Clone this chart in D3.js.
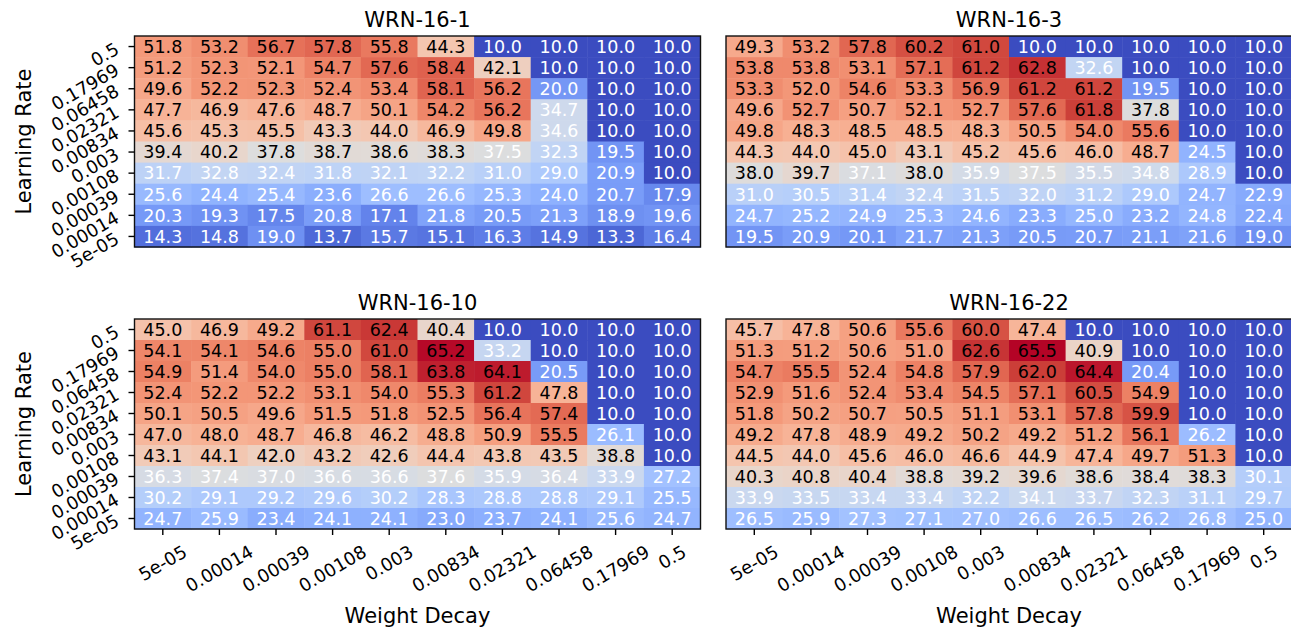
<!DOCTYPE html>
<html>
<head>
<meta charset="utf-8">
<script src="https://cdn.jsdelivr.net/npm/d3@7"></script>
<style>
  body { margin: 0; background: #fff; }
  svg { display: block; font-family: "DejaVu Sans", sans-serif; }
</style>
</head>
<body>
<svg id="viz"></svg>
<script>
/* Data */

const lrLabels = ["0.5", "0.17969", "0.06458", "0.02321", "0.00834", "0.003", "0.00108", "0.00039", "0.00014", "5e-05"];
const wdLabels = ["5e-05", "0.00014", "0.00039", "0.00108", "0.003", "0.00834", "0.02321", "0.06458", "0.17969", "0.5"];
const titles = ["WRN-16-1", "WRN-16-3", "WRN-16-10", "WRN-16-22"];

const wrn16_1 = [
  [51.8, 53.2, 56.7, 57.8, 55.8, 44.3, 10.0, 10.0, 10.0, 10.0],
  [51.2, 52.3, 52.1, 54.7, 57.6, 58.4, 42.1, 10.0, 10.0, 10.0],
  [49.6, 52.2, 52.3, 52.4, 53.4, 58.1, 56.2, 20.0, 10.0, 10.0],
  [47.7, 46.9, 47.6, 48.7, 50.1, 54.2, 56.2, 34.7, 10.0, 10.0],
  [45.6, 45.3, 45.5, 43.3, 44.0, 46.9, 49.8, 34.6, 10.0, 10.0],
  [39.4, 40.2, 37.8, 38.7, 38.6, 38.3, 37.5, 32.3, 19.5, 10.0],
  [31.7, 32.8, 32.4, 31.8, 32.1, 32.2, 31.0, 29.0, 20.9, 10.0],
  [25.6, 24.4, 25.4, 23.6, 26.6, 26.6, 25.3, 24.0, 20.7, 17.9],
  [20.3, 19.3, 17.5, 20.8, 17.1, 21.8, 20.5, 21.3, 18.9, 19.6],
  [14.3, 14.8, 19.0, 13.7, 15.7, 15.1, 16.3, 14.9, 13.3, 16.4]
];

const wrn16_3 = [
  [49.3, 53.2, 57.8, 60.2, 61.0, 10.0, 10.0, 10.0, 10.0, 10.0],
  [53.8, 53.8, 53.1, 57.1, 61.2, 62.8, 32.6, 10.0, 10.0, 10.0],
  [53.3, 52.0, 54.6, 53.3, 56.9, 61.2, 61.2, 19.5, 10.0, 10.0],
  [49.6, 52.7, 50.7, 52.1, 52.7, 57.6, 61.8, 37.8, 10.0, 10.0],
  [49.8, 48.3, 48.5, 48.5, 48.3, 50.5, 54.0, 55.6, 10.0, 10.0],
  [44.3, 44.0, 45.0, 43.1, 45.2, 45.6, 46.0, 48.7, 24.5, 10.0],
  [38.0, 39.7, 37.1, 38.0, 35.9, 37.5, 35.5, 34.8, 28.9, 10.0],
  [31.0, 30.5, 31.4, 32.4, 31.5, 32.0, 31.2, 29.0, 24.7, 22.9],
  [24.7, 25.2, 24.9, 25.3, 24.6, 23.3, 25.0, 23.2, 24.8, 22.4],
  [19.5, 20.9, 20.1, 21.7, 21.3, 20.5, 20.7, 21.1, 21.6, 19.0]
];

const wrn16_10 = [
  [45.0, 46.9, 49.2, 61.1, 62.4, 40.4, 10.0, 10.0, 10.0, 10.0],
  [54.1, 54.1, 54.6, 55.0, 61.0, 65.2, 33.2, 10.0, 10.0, 10.0],
  [54.9, 51.4, 54.0, 55.0, 58.1, 63.8, 64.1, 20.5, 10.0, 10.0],
  [52.4, 52.2, 52.2, 53.1, 54.0, 55.3, 61.2, 47.8, 10.0, 10.0],
  [50.1, 50.5, 49.6, 51.5, 51.8, 52.5, 56.4, 57.4, 10.0, 10.0],
  [47.0, 48.0, 48.7, 46.8, 46.2, 48.8, 50.9, 55.5, 26.1, 10.0],
  [43.1, 44.1, 42.0, 43.2, 42.6, 44.4, 43.8, 43.5, 38.8, 10.0],
  [36.3, 37.4, 37.0, 36.6, 36.6, 37.6, 35.9, 36.4, 33.9, 27.2],
  [30.2, 29.1, 29.2, 29.6, 30.2, 28.3, 28.8, 28.8, 29.1, 25.5],
  [24.7, 25.9, 23.4, 24.1, 24.1, 23.0, 23.7, 24.1, 25.6, 24.7]
];

const wrn16_22 = [
  [45.7, 47.8, 50.6, 55.6, 60.0, 47.4, 10.0, 10.0, 10.0, 10.0],
  [51.3, 51.2, 50.6, 51.0, 62.6, 65.5, 40.9, 10.0, 10.0, 10.0],
  [54.7, 55.5, 52.4, 54.8, 57.9, 62.0, 64.4, 20.4, 10.0, 10.0],
  [52.9, 51.6, 52.4, 53.4, 54.5, 57.1, 60.5, 54.9, 10.0, 10.0],
  [51.8, 50.2, 50.7, 50.5, 51.1, 53.1, 57.8, 59.9, 10.0, 10.0],
  [49.2, 47.8, 48.9, 49.2, 50.2, 49.2, 51.2, 56.1, 26.2, 10.0],
  [44.5, 44.0, 45.6, 46.0, 46.6, 44.9, 47.4, 49.7, 51.3, 10.0],
  [40.3, 40.8, 40.4, 38.8, 39.2, 39.6, 38.6, 38.4, 38.3, 30.1],
  [33.9, 33.5, 33.4, 33.4, 32.2, 34.1, 33.7, 32.3, 31.1, 29.7],
  [26.5, 25.9, 27.3, 27.1, 27.0, 26.6, 26.5, 26.2, 26.8, 25.0]
];

const grids = [wrn16_1, wrn16_3, wrn16_10, wrn16_22];

/* Environment */

const width = 1291;
const height = 630;

const svg = d3.select("#viz")
    .attr("width", width)
    .attr("height", height);

/* Colour: matplotlib coolwarm */

const coolwarm = d3.piecewise(d3.interpolateRgb, [
  "#3b4cc0", "#4d68d7", "#6282ea", "#779af7", "#8db0fe", "#a3c2ff", "#b8d0f9", "#ccd9ee",
  "#dddddd", "#ecd3c5", "#f5c4ad", "#f7b194", "#f49a7b", "#ec7f63", "#de604d", "#cb3e38", "#b40426"
]);

const allValues = grids.flat(2);
const vmin = d3.min(allValues);
const vmax = d3.max(allValues);
const color = d3.scaleSequential(coolwarm).domain([vmin, vmax]);
const threshold = (vmin + vmax) / 2;

/* Layout */

const cols = [134.5, 726];
const rows = [[36, 247], [319, 529]];
const panelW = 566;

const fs = 17.5;      // cell annotations
const tfs = 18;       // tick labels
const tickLen = 6;
const tickPad = 6;
const cos30 = Math.cos(Math.PI / 6), sin30 = Math.sin(Math.PI / 6);
const ascent = 0.928 * tfs, descent = 0.236 * tfs;
const textH = ascent + descent;

grids.forEach((grid, k) => {
  const ci = k % 2, ri = Math.floor(k / 2);
  const x0 = cols[ci], y0 = rows[ri][0], y1 = rows[ri][1];

  const x = d3.scaleBand().domain(wdLabels).range([x0, x0 + panelW]);
  const y = d3.scaleBand().domain(lrLabels).range([y0, y1]);

  const g = svg.append("g");

  const cells = [];
  grid.forEach((row, i) => row.forEach((v, j) => cells.push({lr: lrLabels[i], wd: wdLabels[j], v})));

  g.selectAll("rect.cell")
    .data(cells)
    .join("rect")
      .attr("class", "cell")
      .attr("x", d => x(d.wd))
      .attr("y", d => y(d.lr))
      .attr("width", x.bandwidth() + 0.5)
      .attr("height", y.bandwidth() + 0.5)
      .attr("fill", d => color(d.v));

  g.selectAll("text.val")
    .data(cells)
    .join("text")
      .attr("class", "val")
      .attr("x", d => x(d.wd) + x.bandwidth() / 2)
      .attr("y", d => y(d.lr) + y.bandwidth() / 2)
      .attr("dy", "0.36em")
      .attr("text-anchor", "middle")
      .attr("font-size", fs)
      .attr("fill", d => d.v > threshold ? "#000" : "#fff")
      .text(d => d.v.toFixed(1));

  g.append("rect")
      .attr("x", x0)
      .attr("y", y0)
      .attr("width", panelW)
      .attr("height", y1 - y0)
      .attr("fill", "none")
      .attr("stroke", "#111")
      .attr("stroke-width", 1.4);

  g.append("text")
      .attr("x", x0 + panelW / 2)
      .attr("y", y0 - 9)
      .attr("text-anchor", "middle")
      .attr("font-size", 21)
      .text(titles[k]);

  /* Y axis on the left column: right-aligned, centre-baseline, rotated 30deg */
  if (ci === 0) {
    const gy = g.append("g")
        .attr("transform", `translate(${x0},0)`)
        .call(d3.axisLeft(y).tickSize(tickLen).tickPadding(tickPad))
        .call(a => a.select(".domain").remove());
    gy.attr("font-size", tfs).attr("font-family", null);
    gy.selectAll(".tick line").attr("stroke-width", 1.4);
    gy.selectAll(".tick text")
        .attr("text-anchor", "middle")
        .attr("x", 0)
        .attr("dy", "0.346em")
        .attr("fill", "#000")
        .each(function() {
          const w = this.getComputedTextLength();
          const bw = w * cos30 + textH * sin30;
          const bh = w * sin30 + textH * cos30;
          const cx = -(tickLen + tickPad) - bw / 2;
          const cy = -ascent / 2 + bh / 2;
          d3.select(this).attr("transform", `translate(${cx},${cy}) rotate(-30)`);
        });

    g.append("text")
        .attr("transform", `translate(31,${(y0 + y1) / 2}) rotate(-90)`)
        .attr("text-anchor", "middle")
        .attr("font-size", 21)
        .text("Learning Rate");
  }

  /* X axis on the bottom row: centred, top-aligned, rotated 30deg */
  if (ri === 1) {
    const gx = g.append("g")
        .attr("transform", `translate(0,${y1})`)
        .call(d3.axisBottom(x).tickSize(tickLen).tickPadding(tickPad))
        .call(a => a.select(".domain").remove());
    gx.attr("font-size", tfs).attr("font-family", null);
    gx.selectAll(".tick line").attr("stroke-width", 1.4);
    gx.selectAll(".tick text")
        .attr("text-anchor", "middle")
        .attr("y", 0)
        .attr("dy", "0.346em")
        .attr("fill", "#000")
        .each(function() {
          const w = this.getComputedTextLength();
          const bh = w * sin30 + textH * cos30;
          const cy = tickLen + tickPad + bh / 2;
          d3.select(this).attr("transform", `translate(0,${cy}) rotate(-30)`);
        });

    g.append("text")
        .attr("x", x0 + panelW / 2)
        .attr("y", 623)
        .attr("text-anchor", "middle")
        .attr("font-size", 21)
        .text("Weight Decay");
  }
});
</script>
</body>
</html>
